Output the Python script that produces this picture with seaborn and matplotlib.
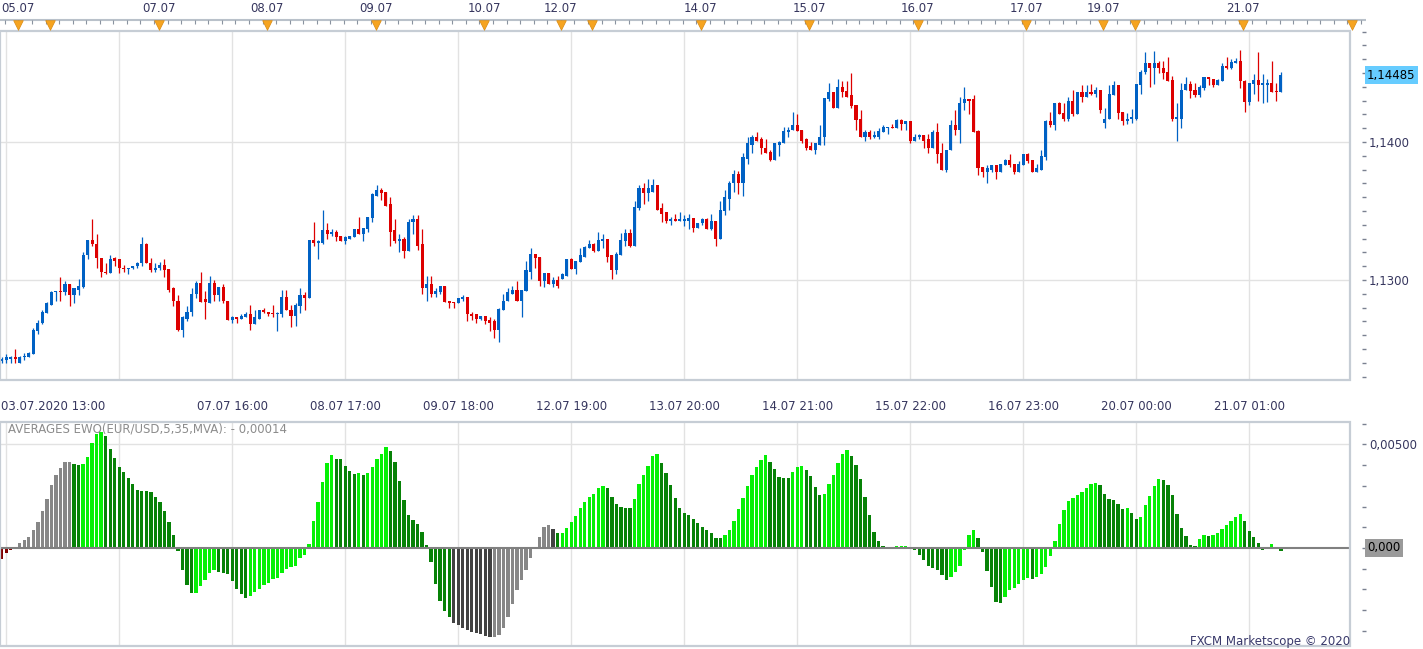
import numpy as np
import pandas as pd
import matplotlib
matplotlib.use("Agg")
import matplotlib.pyplot as plt
import matplotlib.transforms as mtransforms
from matplotlib.patches import Rectangle
from matplotlib.ticker import FixedLocator, MultipleLocator, FuncFormatter
import seaborn as sns

# EUR/USD hourly candles (03.07.2020 12:00 .. 21.07.2020)
opens = [
    1.1241, 1.1242, 1.1243, 1.1244, 1.1240, 1.1244, 1.1244, 1.1246, 1.1263, 1.1269,
    1.1276, 1.1282, 1.1291, 1.1292, 1.1291, 1.1297, 1.1289, 1.1293, 1.1295, 1.1318,
    1.1329, 1.1326, 1.1316, 1.1306, 1.1305, 1.1316, 1.1315, 1.1309, 1.1308, 1.1309,
    1.1310, 1.1312, 1.1326, 1.1312, 1.1307, 1.1309, 1.1311, 1.1308, 1.1294, 1.1285,
    1.1264, 1.1272, 1.1277, 1.1290, 1.1298, 1.1286, 1.1283, 1.1298, 1.1289, 1.1295,
    1.1285, 1.1271, 1.1273, 1.1272, 1.1273, 1.1275, 1.1268, 1.1272, 1.1278, 1.1277,
    1.1276, 1.1275, 1.1275, 1.1288, 1.1278, 1.1274, 1.1281, 1.1289, 1.1287, 1.1329,
    1.1327, 1.1327, 1.1336, 1.1333, 1.1335, 1.1332, 1.1328, 1.1330, 1.1331, 1.1337,
    1.1333, 1.1337, 1.1345, 1.1361, 1.1365, 1.1364, 1.1355, 1.1336, 1.1328, 1.1330,
    1.1321, 1.1342, 1.1344, 1.1326, 1.1294, 1.1297, 1.1290, 1.1291, 1.1296, 1.1285,
    1.1284, 1.1283, 1.1286, 1.1288, 1.1275, 1.1275, 1.1272, 1.1274, 1.1271, 1.1270,
    1.1264, 1.1278, 1.1285, 1.1290, 1.1293, 1.1285, 1.1292, 1.1306, 1.1319, 1.1317,
    1.1299, 1.1305, 1.1297, 1.1300, 1.1301, 1.1303, 1.1315, 1.1308, 1.1313, 1.1317,
    1.1323, 1.1326, 1.1321, 1.1328, 1.1330, 1.1318, 1.1307, 1.1318, 1.1328, 1.1334,
    1.1325, 1.1352, 1.1367, 1.1363, 1.1364, 1.1369, 1.1352, 1.1349, 1.1343, 1.1344,
    1.1343, 1.1343, 1.1343, 1.1345, 1.1338, 1.1341, 1.1344, 1.1337, 1.1343, 1.1330,
    1.1350, 1.1359, 1.1370, 1.1377, 1.1370, 1.1388, 1.1398, 1.1404, 1.1402, 1.1396,
    1.1393, 1.1387, 1.1398, 1.1399, 1.1407, 1.1409, 1.1412, 1.1409, 1.1402, 1.1397,
    1.1394, 1.1398, 1.1404, 1.1431, 1.1436, 1.1425, 1.1440, 1.1437, 1.1434, 1.1427,
    1.1417, 1.1404, 1.1407, 1.1404, 1.1404, 1.1407, 1.1410, 1.1411, 1.1410, 1.1416,
    1.1413, 1.1415, 1.1401, 1.1404, 1.1405, 1.1402, 1.1396, 1.1407, 1.1392, 1.1380,
    1.1394, 1.1412, 1.1409, 1.1428, 1.1431, 1.1431, 1.1408, 1.1382, 1.1378, 1.1380,
    1.1383, 1.1378, 1.1383, 1.1387, 1.1384, 1.1378, 1.1383, 1.1391, 1.1387, 1.1378,
    1.1380, 1.1389, 1.1415, 1.1412, 1.1428, 1.1421, 1.1417, 1.1430, 1.1420, 1.1436,
    1.1433, 1.1436, 1.1435, 1.1438, 1.1414, 1.1417, 1.1434, 1.1441, 1.1422, 1.1415,
    1.1417, 1.1417, 1.1441, 1.1451, 1.1457, 1.1454, 1.1457, 1.1454, 1.1451, 1.1445,
    1.1417, 1.1417, 1.1438, 1.1442, 1.1438, 1.1434, 1.1439, 1.1447, 1.1446, 1.1441,
    1.1444, 1.1455, 1.1454, 1.1457, 1.1459, 1.1444, 1.1429, 1.1442, 1.1445, 1.1441,
    1.1441, 1.1443, 1.1437, 1.1436,
]
highs = [
    1.1244, 1.1246, 1.1245, 1.1250, 1.1245, 1.1247, 1.1248, 1.1265, 1.1271, 1.1278,
    1.1284, 1.1292, 1.1292, 1.1302, 1.1299, 1.1297, 1.1294, 1.1301, 1.1320, 1.1329,
    1.1344, 1.1333, 1.1316, 1.1312, 1.1318, 1.1317, 1.1315, 1.1311, 1.1309, 1.1310,
    1.1313, 1.1331, 1.1327, 1.1316, 1.1312, 1.1313, 1.1315, 1.1308, 1.1295, 1.1289,
    1.1274, 1.1281, 1.1294, 1.1299, 1.1306, 1.1292, 1.1303, 1.1300, 1.1295, 1.1297,
    1.1285, 1.1274, 1.1273, 1.1275, 1.1277, 1.1282, 1.1278, 1.1278, 1.1280, 1.1277,
    1.1282, 1.1277, 1.1293, 1.1293, 1.1282, 1.1283, 1.1294, 1.1291, 1.1329, 1.1342,
    1.1329, 1.1351, 1.1341, 1.1337, 1.1336, 1.1332, 1.1332, 1.1332, 1.1337, 1.1346,
    1.1338, 1.1346, 1.1363, 1.1369, 1.1367, 1.1364, 1.1360, 1.1344, 1.1333, 1.1331,
    1.1344, 1.1347, 1.1347, 1.1337, 1.1303, 1.1303, 1.1294, 1.1296, 1.1296, 1.1285,
    1.1284, 1.1287, 1.1289, 1.1288, 1.1277, 1.1275, 1.1274, 1.1274, 1.1273, 1.1272,
    1.1280, 1.1290, 1.1294, 1.1296, 1.1299, 1.1293, 1.1314, 1.1323, 1.1319, 1.1317,
    1.1305, 1.1305, 1.1302, 1.1303, 1.1305, 1.1315, 1.1316, 1.1314, 1.1323, 1.1325,
    1.1329, 1.1327, 1.1335, 1.1333, 1.1330, 1.1318, 1.1320, 1.1334, 1.1337, 1.1337,
    1.1357, 1.1369, 1.1370, 1.1373, 1.1373, 1.1369, 1.1356, 1.1349, 1.1346, 1.1348,
    1.1349, 1.1347, 1.1348, 1.1345, 1.1341, 1.1345, 1.1345, 1.1348, 1.1343, 1.1357,
    1.1365, 1.1372, 1.1380, 1.1379, 1.1392, 1.1404, 1.1405, 1.1407, 1.1404, 1.1402,
    1.1394, 1.1399, 1.1401, 1.1411, 1.1411, 1.1422, 1.1420, 1.1409, 1.1403, 1.1400,
    1.1399, 1.1412, 1.1432, 1.1443, 1.1436, 1.1446, 1.1444, 1.1444, 1.1450, 1.1427,
    1.1423, 1.1409, 1.1409, 1.1408, 1.1410, 1.1412, 1.1411, 1.1413, 1.1417, 1.1417,
    1.1415, 1.1415, 1.1406, 1.1406, 1.1405, 1.1406, 1.1409, 1.1414, 1.1399, 1.1394,
    1.1416, 1.1423, 1.1433, 1.1440, 1.1431, 1.1434, 1.1409, 1.1382, 1.1383, 1.1383,
    1.1383, 1.1384, 1.1388, 1.1391, 1.1384, 1.1386, 1.1391, 1.1392, 1.1387, 1.1384,
    1.1394, 1.1416, 1.1422, 1.1428, 1.1429, 1.1428, 1.1433, 1.1438, 1.1436, 1.1441,
    1.1441, 1.1442, 1.1440, 1.1438, 1.1425, 1.1441, 1.1444, 1.1441, 1.1422, 1.1421,
    1.1424, 1.1442, 1.1452, 1.1465, 1.1457, 1.1466, 1.1459, 1.1459, 1.1462, 1.1448,
    1.1428, 1.1443, 1.1447, 1.1444, 1.1443, 1.1441, 1.1447, 1.1447, 1.1446, 1.1446,
    1.1457, 1.1462, 1.1460, 1.1461, 1.1467, 1.1445, 1.1443, 1.1449, 1.1465, 1.1449,
    1.1446, 1.1459, 1.1443, 1.1451,
]
lows = [
    1.1240, 1.1240, 1.1240, 1.1240, 1.1240, 1.1242, 1.1244, 1.1246, 1.1261, 1.1268,
    1.1276, 1.1282, 1.1285, 1.1285, 1.1289, 1.1281, 1.1283, 1.1289, 1.1294, 1.1315,
    1.1325, 1.1309, 1.1302, 1.1304, 1.1305, 1.1310, 1.1305, 1.1306, 1.1304, 1.1308,
    1.1309, 1.1310, 1.1312, 1.1306, 1.1306, 1.1307, 1.1302, 1.1291, 1.1281, 1.1263,
    1.1259, 1.1270, 1.1274, 1.1287, 1.1284, 1.1272, 1.1283, 1.1285, 1.1285, 1.1283,
    1.1271, 1.1269, 1.1269, 1.1272, 1.1273, 1.1264, 1.1268, 1.1272, 1.1276, 1.1274,
    1.1273, 1.1263, 1.1273, 1.1278, 1.1266, 1.1267, 1.1276, 1.1278, 1.1287, 1.1325,
    1.1315, 1.1326, 1.1330, 1.1332, 1.1328, 1.1328, 1.1326, 1.1330, 1.1331, 1.1333,
    1.1328, 1.1335, 1.1342, 1.1361, 1.1358, 1.1354, 1.1325, 1.1327, 1.1320, 1.1316,
    1.1321, 1.1333, 1.1322, 1.1290, 1.1285, 1.1288, 1.1288, 1.1290, 1.1284, 1.1280,
    1.1280, 1.1283, 1.1285, 1.1270, 1.1271, 1.1269, 1.1271, 1.1268, 1.1263, 1.1258,
    1.1255, 1.1278, 1.1285, 1.1290, 1.1285, 1.1273, 1.1292, 1.1301, 1.1309, 1.1296,
    1.1295, 1.1297, 1.1295, 1.1294, 1.1301, 1.1303, 1.1308, 1.1304, 1.1313, 1.1317,
    1.1323, 1.1320, 1.1321, 1.1323, 1.1313, 1.1301, 1.1304, 1.1318, 1.1325, 1.1324,
    1.1325, 1.1351, 1.1355, 1.1357, 1.1364, 1.1351, 1.1342, 1.1341, 1.1340, 1.1343,
    1.1343, 1.1339, 1.1337, 1.1335, 1.1338, 1.1340, 1.1337, 1.1336, 1.1325, 1.1330,
    1.1347, 1.1351, 1.1364, 1.1362, 1.1361, 1.1384, 1.1392, 1.1401, 1.1391, 1.1392,
    1.1386, 1.1387, 1.1390, 1.1399, 1.1404, 1.1409, 1.1408, 1.1399, 1.1394, 1.1394,
    1.1391, 1.1398, 1.1398, 1.1430, 1.1425, 1.1425, 1.1433, 1.1433, 1.1425, 1.1409,
    1.1404, 1.1401, 1.1402, 1.1403, 1.1402, 1.1407, 1.1406, 1.1410, 1.1410, 1.1409,
    1.1409, 1.1399, 1.1401, 1.1402, 1.1396, 1.1392, 1.1396, 1.1385, 1.1380, 1.1378,
    1.1394, 1.1405, 1.1399, 1.1423, 1.1420, 1.1407, 1.1376, 1.1375, 1.1370, 1.1378,
    1.1373, 1.1378, 1.1383, 1.1382, 1.1377, 1.1378, 1.1383, 1.1385, 1.1378, 1.1378,
    1.1380, 1.1387, 1.1411, 1.1409, 1.1420, 1.1415, 1.1415, 1.1419, 1.1420, 1.1429,
    1.1433, 1.1434, 1.1433, 1.1421, 1.1410, 1.1417, 1.1434, 1.1417, 1.1412, 1.1413,
    1.1414, 1.1416, 1.1435, 1.1449, 1.1440, 1.1442, 1.1450, 1.1446, 1.1444, 1.1415,
    1.1401, 1.1410, 1.1438, 1.1432, 1.1433, 1.1433, 1.1438, 1.1441, 1.1440, 1.1441,
    1.1444, 1.1453, 1.1453, 1.1457, 1.1439, 1.1422, 1.1427, 1.1435, 1.1430, 1.1428,
    1.1429, 1.1436, 1.1430, 1.1436,
]
closes = [
    1.1243, 1.1244, 1.1244, 1.1243, 1.1244, 1.1245, 1.1247, 1.1264, 1.1269, 1.1277,
    1.1283, 1.1291, 1.1292, 1.1291, 1.1297, 1.1289, 1.1294, 1.1296, 1.1318, 1.1329,
    1.1326, 1.1316, 1.1306, 1.1305, 1.1315, 1.1314, 1.1309, 1.1308, 1.1309, 1.1310,
    1.1312, 1.1326, 1.1312, 1.1307, 1.1309, 1.1311, 1.1307, 1.1293, 1.1285, 1.1264,
    1.1273, 1.1277, 1.1290, 1.1298, 1.1284, 1.1284, 1.1298, 1.1289, 1.1295, 1.1285,
    1.1271, 1.1273, 1.1272, 1.1274, 1.1275, 1.1268, 1.1273, 1.1278, 1.1277, 1.1275,
    1.1275, 1.1276, 1.1288, 1.1278, 1.1274, 1.1282, 1.1289, 1.1287, 1.1329, 1.1327,
    1.1328, 1.1336, 1.1333, 1.1335, 1.1331, 1.1328, 1.1331, 1.1332, 1.1337, 1.1333,
    1.1338, 1.1346, 1.1362, 1.1365, 1.1363, 1.1354, 1.1335, 1.1328, 1.1330, 1.1321,
    1.1342, 1.1344, 1.1325, 1.1294, 1.1297, 1.1290, 1.1292, 1.1296, 1.1284, 1.1283,
    1.1283, 1.1287, 1.1288, 1.1275, 1.1274, 1.1272, 1.1274, 1.1270, 1.1269, 1.1264,
    1.1279, 1.1285, 1.1291, 1.1293, 1.1285, 1.1293, 1.1307, 1.1319, 1.1316, 1.1299,
    1.1305, 1.1297, 1.1300, 1.1296, 1.1304, 1.1315, 1.1308, 1.1314, 1.1318, 1.1324,
    1.1326, 1.1321, 1.1329, 1.1330, 1.1317, 1.1307, 1.1319, 1.1329, 1.1334, 1.1325,
    1.1353, 1.1367, 1.1363, 1.1367, 1.1369, 1.1351, 1.1348, 1.1343, 1.1344, 1.1343,
    1.1344, 1.1344, 1.1345, 1.1338, 1.1341, 1.1344, 1.1337, 1.1343, 1.1330, 1.1351,
    1.1360, 1.1370, 1.1377, 1.1370, 1.1389, 1.1399, 1.1404, 1.1401, 1.1396, 1.1392,
    1.1387, 1.1399, 1.1400, 1.1408, 1.1409, 1.1412, 1.1408, 1.1401, 1.1396, 1.1394,
    1.1399, 1.1404, 1.1432, 1.1436, 1.1425, 1.1440, 1.1436, 1.1433, 1.1426, 1.1416,
    1.1404, 1.1407, 1.1404, 1.1405, 1.1408, 1.1411, 1.1411, 1.1410, 1.1416, 1.1413,
    1.1415, 1.1401, 1.1404, 1.1405, 1.1401, 1.1396, 1.1407, 1.1391, 1.1380, 1.1394,
    1.1412, 1.1409, 1.1428, 1.1431, 1.1430, 1.1407, 1.1381, 1.1378, 1.1381, 1.1383,
    1.1378, 1.1384, 1.1387, 1.1383, 1.1378, 1.1384, 1.1391, 1.1386, 1.1378, 1.1381,
    1.1390, 1.1415, 1.1412, 1.1428, 1.1420, 1.1417, 1.1430, 1.1420, 1.1436, 1.1433,
    1.1436, 1.1435, 1.1438, 1.1423, 1.1417, 1.1435, 1.1441, 1.1421, 1.1415, 1.1417,
    1.1418, 1.1442, 1.1451, 1.1457, 1.1454, 1.1457, 1.1454, 1.1450, 1.1444, 1.1417,
    1.1418, 1.1438, 1.1442, 1.1437, 1.1434, 1.1440, 1.1447, 1.1446, 1.1441, 1.1445,
    1.1455, 1.1454, 1.1458, 1.1459, 1.1444, 1.1429, 1.1443, 1.1445, 1.1441, 1.1443,
    1.1443, 1.1436, 1.1436, 1.14485,
]

# Elliott wave oscillator (5/35 MVA), one value per candle
ewo = [
    -0.00051, -0.00023, -0.00008, 0.00004, 0.00024, 0.00039, 0.00053, 0.00087, 0.00125, 0.00178,
    0.00236, 0.00304, 0.00352, 0.00386, 0.00415, 0.00415, 0.00405, 0.00400, 0.00405, 0.00439,
    0.00506, 0.00550, 0.00560, 0.00540, 0.00477, 0.00434, 0.00390, 0.00367, 0.00338, 0.00309,
    0.00280, 0.00275, 0.00275, 0.00270, 0.00246, 0.00222, 0.00178, 0.00125, 0.00063, -0.00013,
    -0.00106, -0.00178, -0.00217, -0.00217, -0.00183, -0.00154, -0.00121, -0.00106, -0.00116, -0.00121,
    -0.00125, -0.00159, -0.00198, -0.00222, -0.00241, -0.00232, -0.00212, -0.00198, -0.00178, -0.00169,
    -0.00150, -0.00145, -0.00121, -0.00101, -0.00092, -0.00087, -0.00048, -0.00034, 0.00019, 0.00130,
    0.00222, 0.00318, 0.00410, 0.00449, 0.00429, 0.00429, 0.00395, 0.00371, 0.00357, 0.00362,
    0.00352, 0.00362, 0.00390, 0.00429, 0.00453, 0.00487, 0.00468, 0.00415, 0.00323, 0.00232,
    0.00159, 0.00135, 0.00116, 0.00077, 0.00014, -0.00068, -0.00174, -0.00256, -0.00304, -0.00333,
    -0.00362, -0.00371, -0.00386, -0.00395, -0.00405, -0.00410, -0.00415, -0.00424, -0.00429, -0.00429,
    -0.00420, -0.00386, -0.00333, -0.00270, -0.00203, -0.00154, -0.00106, -0.00048, 0.00005, 0.00053,
    0.00101, 0.00111, 0.00092, 0.00072, 0.00072, 0.00096, 0.00125, 0.00154, 0.00193, 0.00222,
    0.00246, 0.00260, 0.00289, 0.00299, 0.00289, 0.00246, 0.00212, 0.00198, 0.00193, 0.00193,
    0.00236, 0.00309, 0.00352, 0.00395, 0.00444, 0.00453, 0.00410, 0.00362, 0.00304, 0.00241,
    0.00193, 0.00169, 0.00159, 0.00140, 0.00121, 0.00101, 0.00087, 0.00072, 0.00048, 0.00048,
    0.00063, 0.00087, 0.00130, 0.00188, 0.00241, 0.00299, 0.00352, 0.00390, 0.00424, 0.00449,
    0.00415, 0.00381, 0.00342, 0.00338, 0.00338, 0.00367, 0.00390, 0.00395, 0.00376, 0.00347,
    0.00294, 0.00256, 0.00260, 0.00309, 0.00352, 0.00410, 0.00453, 0.00473, 0.00444, 0.00400,
    0.00333, 0.00246, 0.00159, 0.00077, 0.00034, 0.00010, 0.00005, 0.00005, 0.00010, 0.00010,
    0.00010, 0.00005, -0.00010, -0.00034, -0.00058, -0.00087, -0.00096, -0.00106, -0.00130, -0.00154,
    -0.00140, -0.00116, -0.00087, -0.00010, 0.00063, 0.00087, 0.00048, -0.00019, -0.00111, -0.00188,
    -0.00260, -0.00265, -0.00236, -0.00203, -0.00193, -0.00174, -0.00154, -0.00145, -0.00150, -0.00140,
    -0.00125, -0.00092, -0.00039, 0.00034, 0.00116, 0.00183, 0.00227, 0.00241, 0.00256, 0.00270,
    0.00289, 0.00309, 0.00314, 0.00304, 0.00260, 0.00236, 0.00232, 0.00212, 0.00188, 0.00193,
    0.00169, 0.00140, 0.00150, 0.00207, 0.00251, 0.00299, 0.00333, 0.00328, 0.00304, 0.00256,
    0.00164, 0.00096, 0.00058, 0.00014, 0.00010, 0.00043, 0.00063, 0.00058, 0.00063, 0.00072,
    0.00092, 0.00111, 0.00130, 0.00150, 0.00164, 0.00130, 0.00082, 0.00053, 0.00024, -0.00008,
    0.00002, 0.00019, 0.00005, -0.00014,
]
# bar colour classes, as (class, number of bars) runs from left to right
ewo_color_runs = [
    ("r", 4), ("g", 12), ("D", 2), ("L", 5), ("D", 20), ("L", 5), ("D", 7), ("L", 19),
    ("D", 5), ("L", 1), ("D", 1), ("L", 5), ("D", 14), ("k", 9), ("g", 13), ("k", 1),
    ("D", 1), ("L", 10), ("D", 6), ("L", 6), ("D", 14), ("L", 10), ("D", 5), ("L", 3),
    ("D", 4), ("L", 6), ("D", 9), ("L", 4), ("D", 9), ("L", 6), ("D", 6), ("L", 6),
    ("D", 1), ("L", 14), ("D", 6), ("L", 1), ("D", 2), ("L", 5), ("D", 8), ("L", 2),
    ("D", 1), ("L", 7), ("D", 5), ("L", 2), ("D", 2),
]

time_ticks = [1, 26, 51, 76, 101, 126, 151, 176, 201, 226, 251, 276]
time_labels = ["03.07.2020 13:00", "", "07.07 16:00", "08.07 17:00", "09.07 18:00",
               "12.07 19:00", "13.07 20:00", "14.07 21:00", "15.07 22:00",
               "16.07 23:00", "20.07 00:00", "21.07 01:00"]
day_marks = [3.7, 10.7, 34.7, 58.7, 82.7, 106.7, 123.7, 130.7, 154.7, 178.7,
             202.7, 226.7, 243.7, 250.7, 274.7, 298.7]
day_labels = ["05.07", "", "07.07", "08.07", "09.07", "10.07", "12.07", "",
              "14.07", "15.07", "16.07", "17.07", "19.07", "", "21.07", ""]
price_levels = [1.13, 1.14]
last_price = 1.14485
ewo_label = "AVERAGES EWO(EUR/USD,5,35,MVA): - 0,00014"

# colours
BLUE = "#0061c4"
RED = "#dd0000"
GRID = "#e2e2e2"
FRAME = "#c6cdd5"
TXT = "#36365e"
ewo_palette = {"r": "#800000", "g": "#878787", "k": "#424242",
               "D": "#078207", "L": "#05f005"}

sns.set_style("white")
plt.rcParams["font.family"] = ["DejaVu Sans"]

W, H, DPI = 1423, 649, 100
PX_BAR, X0 = 4.52, 1.7   # pixels per candle, pixel x of the first candle


def px2bar(px):
    return (px - X0) / PX_BAR


def fy(py):
    return 1 - py / H


fig = plt.figure(figsize=(W / DPI, H / DPI), dpi=DPI)
ax_top = fig.add_axes([0, fy(380), 1350 / W, (380 - 31) / H])
ax_ewo = fig.add_axes([0, fy(646), 1350 / W, (646 - 422) / H])
ax_strip = fig.add_axes([0, fy(31), 1366 / W, 31 / H])

# ---- candles
df = pd.DataFrame({"open": opens, "high": highs, "low": lows, "close": closes})
x = np.arange(len(df))
col = np.where(df["close"] >= df["open"], BLUE, RED)
ax_top.vlines(x, df["low"], df["high"], colors=col, linewidth=0.9, zorder=3)
body_lo = df[["open", "close"]].min(axis=1)
body_h = (df["close"] - df["open"]).abs().clip(lower=0.00006)
ax_top.bar(x, body_h, bottom=body_lo, width=0.68, color=col, linewidth=0, zorder=4)

# ---- EWO histogram
codes = "".join(c * n for c, n in ewo_color_runs)
ewo_df = pd.DataFrame({"bar": np.arange(len(ewo)), "ewo": ewo, "kind": list(codes)})
sns.barplot(data=ewo_df, x="bar", y="ewo", hue="kind", palette=ewo_palette,
            dodge=False, width=0.74, errorbar=None, legend=False, saturation=1,
            linewidth=0, ax=ax_ewo)

out = 12 * 72 / DPI
for ax, ylim in ((ax_top, (1.12275, 1.14805)), (ax_ewo, (-0.004725, 0.006075))):
    ax.set_xlim(px2bar(0), px2bar(1350))
    ax.set_ylim(*ylim)
    ax.set_xlabel("")
    ax.set_ylabel("")
    ax.grid(False)
    for t in time_ticks:
        ax.axvline(t, color=GRID, lw=1, zorder=0)
    ax.set_xticks(time_ticks)
    ax.tick_params(axis="x", direction="out", length=4, width=1, color="#7a8090",
                   labelbottom=False)
    ax.yaxis.tick_right()
    ax.spines["right"].set_position(("outward", out))
    for s in ax.spines.values():
        s.set_visible(False)
    ax.add_patch(Rectangle((0, 0), 1, 1, transform=ax.transAxes, fill=False,
                           ec=FRAME, lw=1.6, clip_on=False, zorder=10))
    ax.yaxis.set_minor_locator(MultipleLocator(0.001))
    ax.tick_params(axis="y", which="both", direction="out", length=3, width=1,
                   color="#7a8090", labelsize=8.5, labelcolor=TXT, pad=2)

# price axis
for lvl in price_levels:
    ax_top.axhline(lvl, color=GRID, lw=1, zorder=0)
ax_top.yaxis.set_major_locator(FixedLocator(price_levels))
ax_top.yaxis.set_major_formatter(FuncFormatter(lambda v, p: f"{v:.4f}".replace(".", ",")))
ax_top.text(1367 / 1350, last_price, f"{last_price:.5f}".replace(".", ","),
            transform=ax_top.get_yaxis_transform(), ha="left", va="center",
            fontsize=8.5, color="black",
            bbox=dict(boxstyle="square,pad=0.2", fc="#66ccff", ec="none"))

# oscillator axis
ax_ewo.axhline(0.005, color=GRID, lw=1, zorder=0)
ax_ewo.axhline(0, color="#808080", lw=1.5, zorder=5)
ax_ewo.yaxis.set_major_locator(FixedLocator([0.005]))
ax_ewo.yaxis.set_major_formatter(FuncFormatter(lambda v, p: f"{v:.5f}".replace(".", ",")))
ax_ewo.text(1367 / 1350, 0, "0,000", transform=ax_ewo.get_yaxis_transform(),
            ha="left", va="center", fontsize=8.5, color="black",
            bbox=dict(boxstyle="square,pad=0.2", fc="#9a9a9a", ec="none"))
fig.text(8 / W, fy(429), ewo_label, ha="left", va="center", fontsize=8.5, color="#8c8c8c")

# time labels under the price panel
trans = mtransforms.blended_transform_factory(ax_top.transData, fig.transFigure)
for t, lab in zip(time_ticks, time_labels):
    if not lab:
        continue
    if t == time_ticks[0]:
        ax_top.text(px2bar(1), fy(407), lab, transform=trans, ha="left", va="center",
                    fontsize=8.5, color=TXT)
    else:
        ax_top.text(t, fy(407), lab, transform=trans, ha="center", va="center",
                    fontsize=8.5, color=TXT)

# day strip on top
ax_strip.set_xlim(px2bar(0), px2bar(1366))
ax_strip.set_ylim(31, 0)
ax_strip.axis("off")
ax_strip.hlines(20, px2bar(0), px2bar(1366), color="#b9c1ca", lw=1.5)
ax_strip.vlines(np.arange(0.7, px2bar(1366), 3), 20, 23.5, color="#8a93a0", lw=0.8)
ax_strip.scatter(day_marks, [24.5] * len(day_marks), marker="v", s=48,
                 color="#f6a420", edgecolors="#d98a10", linewidths=0.5, zorder=3)
for m, lab in zip(day_marks, day_labels):
    if lab:
        ax_strip.text(m, 8, lab, ha="center", va="center", fontsize=8.5, color=TXT)

fig.text(1350 / W, fy(641), "FXCM Marketscope \u00a9 2020", ha="right", va="center",
         fontsize=8.5, color="#38386a")

fig.savefig("out.png", dpi=DPI)
